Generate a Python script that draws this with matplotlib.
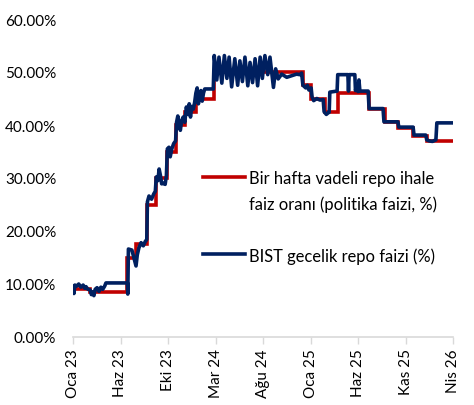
import matplotlib
matplotlib.use("Agg")
import matplotlib.pyplot as plt
import numpy as np
import pandas as pd
from matplotlib.lines import Line2D
from matplotlib.ticker import FuncFormatter

plt.rcParams['font.family'] = ['Lato', 'DejaVu Sans']

START = pd.Timestamp('2023-01-02')

# Policy rate (one-week repo auction rate), step changes
red_dates = ['2023-01-02', '2023-02-24', '2023-06-23', '2023-07-21', '2023-08-25',
             '2023-09-22', '2023-10-27', '2023-11-24', '2023-12-22', '2024-01-26',
             '2024-03-22', '2024-12-27', '2025-01-24', '2025-03-07', '2025-04-17',
             '2025-07-25', '2025-09-12', '2025-10-24', '2025-12-12', '2026-01-23',
             '2026-04-16']
red_vals = [9.0, 8.5, 15.0, 17.5, 25.0, 30.0, 35.0, 40.0, 42.5, 45.0,
            50.0, 47.5, 45.0, 42.5, 46.0, 43.0, 40.5, 39.5, 38.0, 37.0, 37.0]

# BIST overnight repo rate (days since START, value %)
blue_days = [0, 3, 6, 12, 18, 25, 32, 37, 41, 47, 54, 58, 62, 66, 70, 76, 82, 88, 94, 100,
             104, 172, 173,
             175, 186, 192, 199, 203, 208, 215, 222, 228, 233, 235, 240, 248, 255, 260, 263,
             268, 272, 276, 280, 286, 291, 295, 298, 303, 307, 312, 318, 324, 327, 331, 335,
             339, 343, 348, 353, 358, 363, 367, 371, 375, 380, 384, 388, 392, 396, 400, 404,
             408, 412, 416, 443,
             446, 454, 461, 470, 478, 486, 493, 501, 511, 520, 527, 535, 543, 552, 559, 567,
             575, 583, 591, 598, 606, 615, 622, 633, 640, 648, 659, 675, 691, 706, 716, 722,
             726, 735, 740, 745, 752, 755, 760, 770, 780, 790, 793, 800, 806, 809, 811, 834,
             836, 868, 870, 872, 890, 892, 896, 900, 903, 906, 932, 935, 979, 982, 1026, 1029,
             1074, 1077, 1114, 1117, 1125, 1135, 1146, 1149, 1199]
blue_vals = [9.5, 8.2, 9.8, 9.6, 10.0, 9.4, 9.8, 9.2, 9.5, 9.0, 8.9, 8.0, 8.5, 7.8, 9.0, 9.3,
             8.6, 9.4, 9.0, 9.6, 10.2, 10.2, 8.1,
             16.6, 16.4, 15.0, 13.4, 15.5, 16.8, 17.8, 17.2, 18.0, 18.4, 25.5, 26.6, 26.0,
             27.0, 27.5, 30.2, 29.5, 31.7, 30.5, 28.9, 29.0, 28.8, 30.5, 35.5, 35.8, 34.0,
             35.5, 36.5, 37.0, 40.5, 41.7, 40.0, 39.0, 40.8, 41.5, 40.5, 43.4, 42.0, 44.0,
             41.5, 43.5, 43.0, 44.2, 46.0, 47.0, 44.0, 45.5, 46.5, 44.5, 46.0, 46.8, 46.8,
             53.1, 48.5, 52.8, 47.9, 53.1, 48.8, 52.8, 47.2, 52.5, 47.5, 52.1, 48.2, 52.8,
             47.4, 51.8, 48.0, 52.5, 47.4, 52.8, 48.8, 53.1, 49.5, 52.8, 47.1, 50.6, 48.7,
             49.6, 49.0, 49.3, 49.6, 49.5, 49.8,
             47.5, 47.0, 47.5, 46.6, 47.0, 45.3, 44.6, 45.0, 44.7, 44.8, 42.5, 42.0, 42.3,
             42.4, 46.2, 46.4, 49.5, 49.5, 46.4, 49.5, 49.5, 46.5, 47.5, 46.3, 48.5, 46.4,
             46.4, 43.1, 43.1, 40.6, 40.6, 39.6, 39.6, 38.1, 38.1, 37.2, 37.0, 36.9, 37.2,
             40.4, 40.4]

tick_labels = ['Oca 23', 'Haz 23', 'Eki 23', 'Mar 24', 'Ağu 24', 'Oca 25', 'Haz 25',
               'Kas 25', 'Nis 26']
TICK_STEP = 150

red_label = 'Bir hafta vadeli repo ihale\nfaiz oranı (politika faizi, %)'
blue_label = 'BIST gecelik repo faizi (%)'

RED = '#C00000'
BLUE = '#002060'
LW = 2.6

fig = plt.figure(figsize=(4.74, 4.06), dpi=100)
ax = fig.add_axes([73/474, 1-338/406, 380/474, 318/406])

red_x = pd.to_datetime(red_dates)
blue_x = START + pd.to_timedelta(blue_days, unit='D')

ax.plot(red_x, red_vals, color=RED, lw=LW, drawstyle='steps-post', solid_joinstyle='miter')
ax.plot(blue_x, blue_vals, color=BLUE, lw=LW, solid_joinstyle='round')

ticks = [START + pd.Timedelta(days=TICK_STEP * k) for k in range(len(tick_labels))]
ax.set_xticks(ticks)
ax.set_xticklabels(tick_labels, rotation=90, fontsize=11, color='#000000')
ax.set_xlim(ticks[0], ticks[-1])
ax.set_ylim(0, 60)
ax.set_yticks(np.arange(0, 61, 10))
ax.yaxis.set_major_formatter(FuncFormatter(lambda v, p: f'{v:.2f}%'))
ax.tick_params(axis='y', length=0, labelsize=11, pad=12)
ax.tick_params(axis='x', length=5, width=1, color='#D9D9D9', pad=3)

for s in ['top', 'right', 'left']:
    ax.spines[s].set_visible(False)
ax.spines['bottom'].set_color('#D9D9D9')
ax.spines['bottom'].set_linewidth(1.2)

# Legend (Excel-style, handle aligned with first text line)
def yfr(py):
    return (338 - py) / 318
def xfr(px):
    return (px - 73) / 380

LEG_FS = 11.9
ax.add_line(Line2D([xfr(203), xfr(245)], [yfr(178), yfr(178)], transform=ax.transAxes,
                   color=RED, lw=LW))
l1, l2 = red_label.split('\n')
ax.text(xfr(249), yfr(178), l1, transform=ax.transAxes, va='center_baseline', ha='left', fontsize=LEG_FS)
ax.text(xfr(249), yfr(203), l2, transform=ax.transAxes, va='center_baseline', ha='left', fontsize=LEG_FS)
ax.add_line(Line2D([xfr(203), xfr(245)], [yfr(255), yfr(255)], transform=ax.transAxes,
                   color=BLUE, lw=LW))
ax.text(xfr(249), yfr(255), blue_label, transform=ax.transAxes, va='center_baseline', ha='left', fontsize=LEG_FS)

fig.savefig('out.png', dpi=100)
